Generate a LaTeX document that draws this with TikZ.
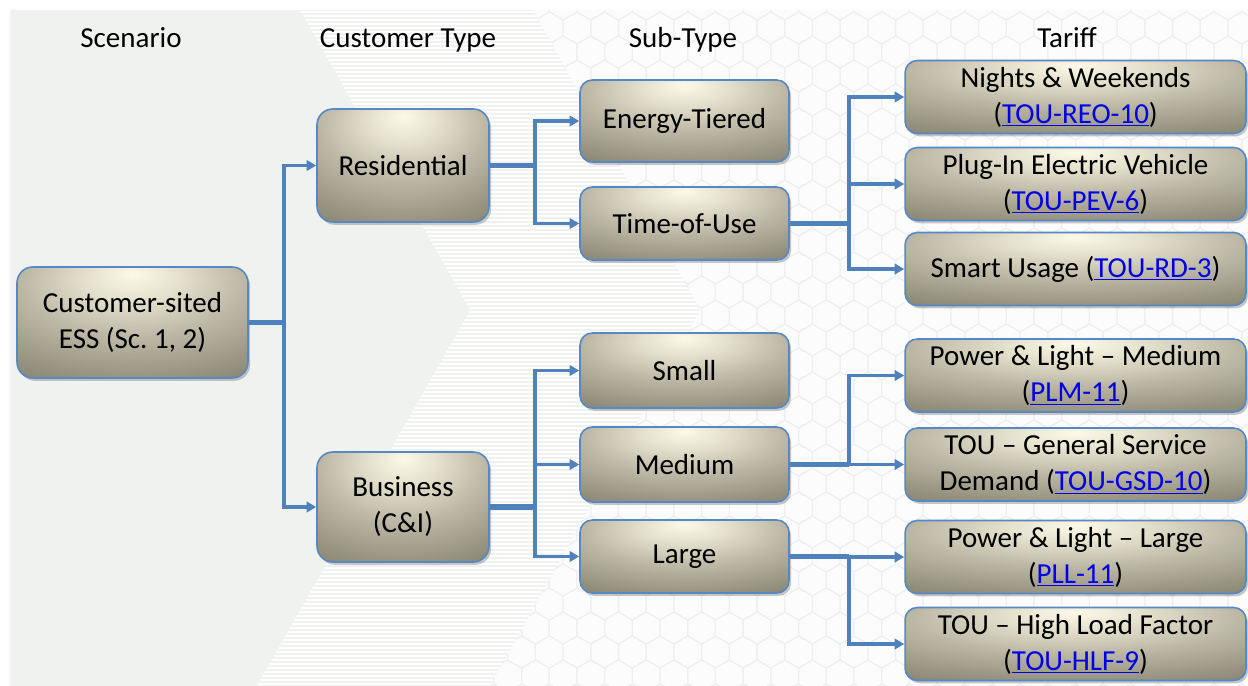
\documentclass[tikz,border=0pt]{standalone}
\usepackage{fontspec}
\setmainfont{Carlito}
\usepackage{tikz}
\usetikzlibrary{arrows.meta, positioning, shadows, calc}
\usepackage{xcolor}
\definecolor{lienbleu}{RGB}{79,129,189}
\definecolor{bordure}{RGB}{86,136,198}
\definecolor{hyperlien}{RGB}{0,0,230}
\definecolor{fondgris}{RGB}{240,242,240}
\definecolor{fondclair}{RGB}{252,252,252}
\definecolor{hexgris}{RGB}{238,239,238}
\definecolor{creme}{RGB}{252,249,232}
\definecolor{sable}{RGB}{228,225,205}
\definecolor{grege}{RGB}{188,184,165}
\definecolor{taupe}{RGB}{150,146,128}
\definecolor{taupefonce}{RGB}{116,112,95}

% degrade des boites (clair en haut, fonce sur les bords)
\pgfdeclareradialshading{lueur}{\pgfpoint{0bp}{22bp}}{%
  color(0bp)=(creme); color(10bp)=(sable); color(24bp)=(grege);
  color(40bp)=(taupe); color(56bp)=(taupefonce); color(120bp)=(taupefonce)}

\newcommand{\tarif}[1]{\textcolor{hyperlien}{\underline{#1}}}

\tikzset{
  boite/.style={draw=bordure, line width=0.9pt, rounded corners=7pt,
    shade, shading=lueur, align=center, inner sep=1pt,
    font=\fontsize{16.5}{20.5}\selectfont,
    drop shadow={shadow xshift=1.2pt, shadow yshift=-1.6pt,
      opacity=0.3, fill=black!70}},
  titre/.style={font=\fontsize{16.5}{20.5}\selectfont, anchor=base},
  branche/.style={draw=lienbleu, line width=2pt,
    -{Triangle[length=5.5pt, width=6pt]}},
  tronc/.style={draw=lienbleu, line width=3.2pt},
  hexa/.style={draw=hexgris, line width=0.6pt}
}

\begin{document}
\begin{tikzpicture}[x=0.02cm, y=-0.02cm]
    \useasboundingbox (0,0) rectangle (1248,686);

    % Fond : chevron uni, bande rayee, nid d'abeilles
    \fill[fondclair] (10,10) rectangle (1248,686);
    \fill[fondgris] (10,10) -- (300,10) -- (470,310) -- (257,686)
      -- (10,686) -- cycle;
    \begin{scope}
      \clip (300,10) -- (533,10) -- (700,310) -- (490,686) -- (257,686)
        -- (470,310) -- cycle;
      \fill[fondgris] (250,10) rectangle (710,686);
      \foreach \y in {12,16,...,684} {
        \draw[white, line width=0.9pt] (250,\y) -- (710,\y);
      }
    \end{scope}
    \begin{scope}
      \clip (533,10) -- (1248,10) -- (1248,686) -- (490,686)
        -- (700,310) -- cycle;
      \foreach \i in {0,...,28} {
        \foreach \j in {0,...,29} {
          \pgfmathsetmacro\hx{480+\i*27.7+mod(\j,2)*13.85}
          \pgfmathsetmacro\hy{4+\j*24}
          \draw[hexa] (\hx,\hy) +(30:16) -- +(90:16) -- +(150:16)
            -- +(210:16) -- +(270:16) -- +(330:16) -- cycle;
        }
      }
    \end{scope}

    % Titres des colonnes
    \node[titre] (tScen) at (131,48) {Scenario};
    \node[titre] (tType) at (408,48) {Customer Type};
    \node[titre] (tSous) at (683,48) {Sub-Type};
    \node[titre] (tTarif) at (1067,48) {Tariff};

    % Scenario et types de clients
    \node[boite, rounded corners=9pt, minimum width=4.62cm,
          minimum height=2.22cm] (ess) at (132.5,322.5)
      {Customer-sited\\ESS (Sc.~1, 2)};
    \node[boite, rounded corners=9pt, minimum width=3.44cm,
          minimum height=2.26cm] (res) at (403,165.5) {Residential};
    \node[boite, rounded corners=9pt, minimum width=3.44cm,
          minimum height=2.2cm] (bus) at (403,507) {Business\\(C\&I)};

    % Sous-types
    \node[boite, minimum width=4.18cm, minimum height=1.64cm]
      (tiered) at (684.5,121) {Energy-Tiered};
    \node[boite, minimum width=4.18cm, minimum height=1.46cm]
      (tou) at (684.5,223.5) {Time-of-Use};
    \node[boite, minimum width=4.18cm, minimum height=1.5cm]
      (small) at (684.5,370.5) {Small};
    \node[boite, minimum width=4.18cm, minimum height=1.5cm]
      (medium) at (684.5,464.5) {Medium};
    \node[boite, minimum width=4.18cm, minimum height=1.46cm]
      (large) at (684.5,556.5) {Large};

    % Tarifs
    \node[boite, minimum width=6.82cm, minimum height=1.46cm]
      (reo) at (1075.5,97) {Nights \& Weekends\\(\tarif{TOU-REO-10})};
    \node[boite, minimum width=6.82cm, minimum height=1.46cm]
      (pev) at (1075.5,184) {Plug-In Electric Vehicle\\(\tarif{TOU-PEV-6})};
    \node[boite, minimum width=6.82cm, minimum height=1.46cm]
      (rd) at (1075.5,269) {Smart Usage (\tarif{TOU-RD-3})};
    \node[boite, minimum width=6.82cm, minimum height=1.46cm]
      (plm) at (1075.5,375.5) {Power \& Light – Medium\\(\tarif{PLM-11})};
    \node[boite, minimum width=6.82cm, minimum height=1.46cm]
      (gsd) at (1075.5,464.5) {TOU – General Service\\Demand (\tarif{TOU-GSD-10})};
    \node[boite, minimum width=6.82cm, minimum height=1.46cm]
      (pll) at (1075.5,557) {Power \& Light – Large\\(\tarif{PLL-11})};
    \node[boite, minimum width=6.82cm, minimum height=1.46cm]
      (hlf) at (1075.5,644) {TOU – High Load Factor\\(\tarif{TOU-HLF-9})};

    % Points de branchement
    \coordinate (jEss) at ($(ess.east)+(35,0)$);
    \coordinate (jRes) at ($(res.east)+(45,0)$);
    \coordinate (jBus) at ($(bus.east)+(45,0)$);
    \coordinate (jTou) at ($(tou.east)+(59,0)$);
    \coordinate (jMed) at ($(medium.east)+(59,0)$);
    \coordinate (jLrg) at ($(large.east)+(59,0)$);

    % Connecteurs
    \draw[tronc] (ess.east) -- (jEss);
    \draw[branche] (jEss) |- (res.west);
    \draw[branche] (jEss) |- (bus.west);

    \draw[tronc] (res.east) -- (jRes);
    \draw[branche] (jRes) |- (tiered.west);
    \draw[branche] (jRes) |- (tou.west);

    \draw[tronc] (bus.east) -- (jBus);
    \foreach \cible in {small, medium, large} {
      \draw[branche] (jBus) |- (\cible.west);
    }

    \draw[tronc] (tou.east) -- (jTou);
    \foreach \cible in {reo, pev, rd} {
      \draw[branche] (jTou) |- (\cible.west);
    }

    \draw[tronc] (medium.east) -- (jMed);
    \draw[branche] (jMed) |- (plm.west);
    \draw[branche] (jMed) |- (gsd.west);

    \draw[tronc] (large.east) -- (jLrg);
    \draw[branche] (jLrg) |- (pll.west);
    \draw[branche] (jLrg) |- (hlf.west);

\end{tikzpicture}
\end{document}
